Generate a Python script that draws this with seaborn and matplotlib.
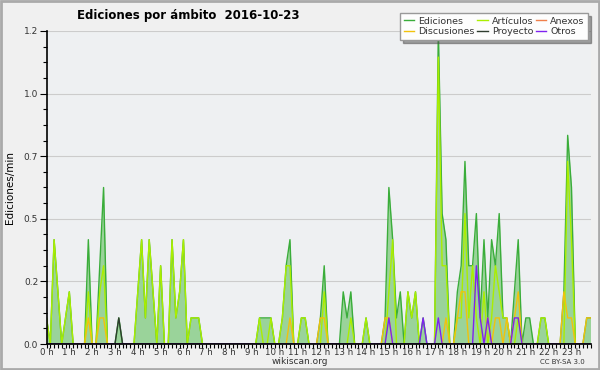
import numpy as np
import pandas as pd
import matplotlib
matplotlib.use("Agg")
import matplotlib.pyplot as plt
from matplotlib.lines import Line2D
from matplotlib.patches import Rectangle
import seaborn as sns

# one value every 10 minutes (6 per hour), edits per minute
hours = [f"{h} h" for h in range(24)]

ediciones = [
    0.1, 0, 0.4, 0.2, 0, 0.1,      # 0 h
    0.2, 0, 0, 0, 0, 0.4,          # 1 h
    0, 0, 0.3, 0.6, 0, 0,          # 2 h
    0, 0.1, 0, 0, 0, 0,            # 3 h
    0.2, 0.4, 0.1, 0.4, 0.2, 0,    # 4 h
    0.3, 0, 0, 0.4, 0.1, 0.2,      # 5 h
    0.4, 0, 0.1, 0.1, 0.1, 0,      # 6 h
    0, 0, 0, 0, 0, 0,              # 7 h
    0, 0, 0, 0, 0, 0,              # 8 h
    0, 0, 0.1, 0.1, 0.1, 0.1,      # 9 h
    0, 0, 0.1, 0.3, 0.4, 0,        # 10 h
    0, 0.1, 0.1, 0, 0, 0,          # 11 h
    0.1, 0.3, 0, 0, 0, 0,          # 12 h
    0.2, 0.1, 0.2, 0, 0, 0,        # 13 h
    0.1, 0, 0, 0, 0, 0.1,          # 14 h
    0.6, 0.4, 0.1, 0.2, 0, 0.2,    # 15 h
    0.1, 0.2, 0, 0.1, 0, 0,        # 16 h
    0, 1.2, 0.5, 0.4, 0, 0,        # 17 h
    0.2, 0.3, 0.7, 0.3, 0.3, 0.5,  # 18 h
    0.1, 0.4, 0.1, 0.4, 0.3, 0.5,  # 19 h
    0.1, 0.1, 0, 0.2, 0.4, 0,      # 20 h
    0.1, 0.1, 0, 0, 0.1, 0.1,      # 21 h
    0, 0, 0, 0, 0.2, 0.8,          # 22 h
    0.6, 0, 0, 0, 0.1, 0.1,        # 23 h
]

articulos = [
    0.1, 0, 0.4, 0.2, 0, 0.1,
    0.2, 0, 0, 0, 0, 0.2,
    0, 0, 0.2, 0.3, 0, 0,
    0, 0, 0, 0, 0, 0,
    0.2, 0.4, 0.1, 0.4, 0.2, 0,
    0.3, 0, 0, 0.4, 0.1, 0.2,
    0.4, 0, 0.1, 0.1, 0.1, 0,
    0, 0, 0, 0, 0, 0,
    0, 0, 0, 0, 0, 0,
    0, 0, 0.1, 0, 0, 0.1,
    0, 0, 0.1, 0.3, 0.3, 0,
    0, 0.1, 0.1, 0, 0, 0,
    0, 0.2, 0, 0, 0, 0,
    0, 0, 0.1, 0, 0, 0,
    0.1, 0, 0, 0, 0, 0,
    0.2, 0.4, 0, 0, 0, 0.2,
    0.1, 0.2, 0, 0, 0, 0,
    0, 1.1, 0.3, 0.3, 0, 0,
    0.1, 0.1, 0.5, 0.1, 0.3, 0.1,
    0, 0.2, 0, 0.1, 0.3, 0.2,
    0.1, 0.1, 0, 0, 0.1, 0,
    0, 0, 0, 0, 0.1, 0.1,
    0, 0, 0, 0, 0, 0.7,
    0.4, 0, 0, 0, 0, 0,
]

anexos = [0] * 144

discusiones = [
    0, 0, 0, 0, 0, 0,
    0, 0, 0, 0, 0, 0.1,
    0, 0, 0.1, 0.1, 0, 0,
    0, 0, 0, 0, 0, 0,
    0, 0, 0, 0, 0, 0,
    0, 0, 0, 0, 0, 0,
    0, 0, 0, 0, 0, 0,
    0, 0, 0, 0, 0, 0,
    0, 0, 0, 0, 0, 0,
    0, 0, 0, 0, 0, 0,
    0, 0, 0, 0, 0.1, 0,
    0, 0, 0, 0, 0, 0,
    0.1, 0.1, 0, 0, 0, 0,
    0, 0, 0, 0, 0, 0,
    0, 0, 0, 0, 0, 0.1,
    0.1, 0, 0, 0, 0, 0,
    0, 0, 0, 0, 0, 0,
    0, 0, 0, 0.1, 0, 0,
    0.1, 0.2, 0.2, 0, 0, 0,
    0, 0, 0.1, 0, 0.1, 0.1,
    0, 0.1, 0, 0.1, 0.2, 0,
    0, 0, 0, 0, 0, 0,
    0, 0, 0, 0, 0.2, 0.1,
    0.1, 0, 0, 0, 0.1, 0.1,
]

proyecto = [0] * 144
proyecto[19] = 0.1

otros = [0] * 144
for k, v in {90: 0.1, 99: 0.1, 103: 0.1, 113: 0.3, 114: 0.1,
             116: 0.1, 123: 0.1, 124: 0.1}.items():
    otros[k] = v

series = {
    "Ediciones": ediciones,
    "Artículos": articulos,
    "Anexos": anexos,
    "Discusiones": discusiones,
    "Proyecto": proyecto,
    "Otros": otros,
}
colors = {
    "Ediciones": "#3aad3a",
    "Artículos": "#aaee00",
    "Anexos": "#f07f4a",
    "Discusiones": "#f2c20c",
    "Proyecto": "#2f3d2f",
    "Otros": "#7f22f0",
}

slot = np.arange(len(ediciones))
df = pd.concat(
    [pd.DataFrame({"slot": slot, "valor": v, "ambito": k}) for k, v in series.items()],
    ignore_index=True,
)

fig = plt.figure(figsize=(6, 3.7), dpi=100, facecolor="#f0f0f0")
ax = fig.add_axes([46.5 / 600, 26 / 370, 544 / 600, 313 / 370])
ax.set_facecolor("#eef0f2")

ax.fill_between(slot, ediciones, color="#9ad39a", lw=0, zorder=1)
sns.lineplot(data=df, x="slot", y="valor", hue="ambito", hue_order=list(series),
             palette=colors, estimator=None, errorbar=None, linewidth=1.0,
             legend=False, ax=ax, zorder=2)

ax.set_xlim(0, len(slot) - 1)
ax.set_ylim(0, 1.2)
ax.set_xticks(np.arange(0, 144, 6))
ax.set_xticklabels(hours)
ax.set_xticks(slot, minor=True)
yt = np.arange(0, 1.21, 0.24)
ax.set_yticks(yt)
ax.set_yticklabels([f"{v:.1f}" for v in yt])
ax.set_yticks(np.arange(0, 1.21, 0.06), minor=True)

ax.grid(axis="y", which="major", color="#cccccc", lw=0.8)
ax.set_axisbelow(True)
for s in ["top", "right"]:
    ax.spines[s].set_visible(False)
for s in ["left", "bottom"]:
    ax.spines[s].set_linewidth(1.2)
    ax.spines[s].set_zorder(5)

ax.tick_params(axis="x", which="both", length=3, width=0.8, pad=0, labelsize=6.2, colors="black")
ax.tick_params(axis="y", which="major", length=5, width=0.8, pad=1, labelsize=6.5)
ax.tick_params(axis="y", which="minor", length=3, width=0.8)
for lab in ax.get_xticklabels() + ax.get_yticklabels():
    lab.set_color("#333333")
ax.set_xlabel("")
ax.set_ylabel("Ediciones/min", fontsize=7.5, labelpad=6)

fig.text(0.313, 0.957, "Ediciones por ámbito  2016-10-23", ha="center", va="center",
         fontsize=8.5, fontweight="bold")
fig.text(0.5, 0.022, "wikiscan.org", ha="center", va="center", fontsize=6.5, color="#333333")
fig.text(0.937, 0.021, "CC BY-SA 3.0", ha="center", va="center", fontsize=5, color="#333333")

order = ["Ediciones", "Discusiones", "Artículos", "Proyecto", "Anexos", "Otros"]
handles = [Line2D([], [], color=colors[n], lw=1.0) for n in order]
leg = fig.legend(handles, order, loc="upper right", bbox_to_anchor=(593 / 600, 1 - 8 / 370),
                 ncol=3, fontsize=6.8, frameon=True, fancybox=False, shadow=True,
                 edgecolor="#999999", facecolor="#fdfdfd", framealpha=1,
                 handlelength=1.1, handletextpad=0.4, columnspacing=0.3,
                 borderpad=0.4, labelspacing=0.2)
for t in leg.get_texts():
    t.set_color("#333333")

fig.patches.append(Rectangle((0.002, 0.003), 0.996, 0.994, transform=fig.transFigure,
                             fill=False, edgecolor="#aaaaaa", lw=2))

fig.savefig("out.png", dpi=100, facecolor=fig.get_facecolor())
